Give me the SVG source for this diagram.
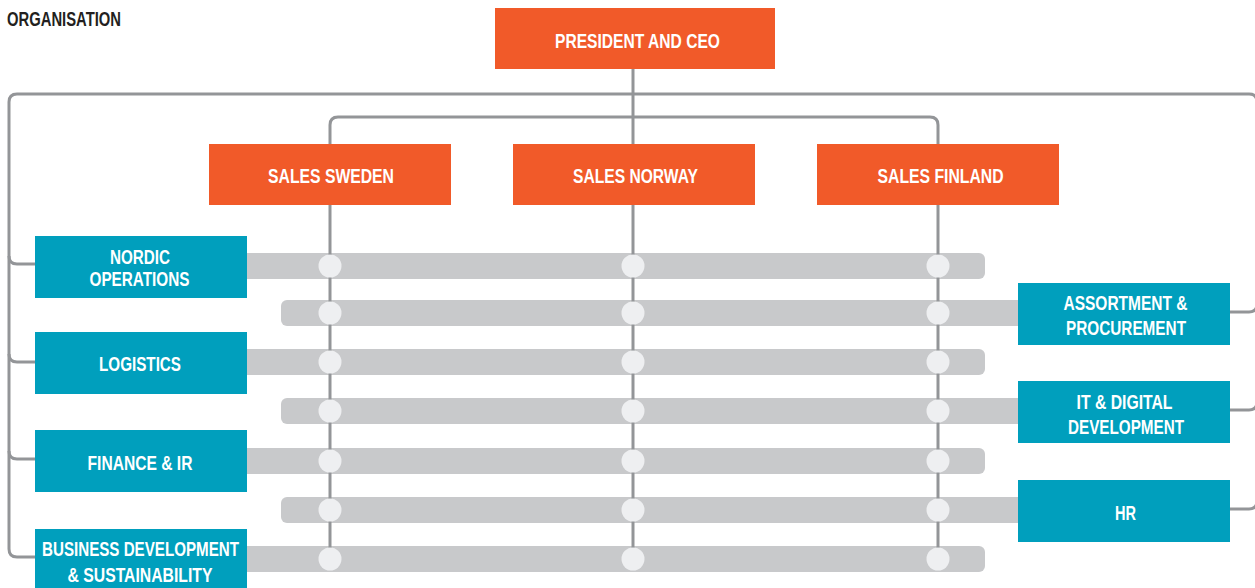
<svg xmlns="http://www.w3.org/2000/svg" width="1255" height="588" viewBox="0 0 1255 588">
<style>
  .ln{fill:none;stroke:#939598;stroke-width:3}
  .bar{fill:#c8c9cb}
  .dot{fill:#eeeff1}
  .or{fill:#f15a29}
  .tl{fill:#009fbd}
  .t{font-family:'Liberation Sans','DejaVu Sans',sans-serif;font-weight:bold;font-size:20.5px;fill:#ffffff;text-anchor:middle}
  .h{font-family:'Liberation Sans','DejaVu Sans',sans-serif;font-weight:bold;font-size:20.5px;fill:#231f20}
</style>
<rect width="1255" height="588" fill="#ffffff"/>
<text class="h" x="7" y="26" textLength="114" lengthAdjust="spacingAndGlyphs">ORGANISATION</text>

<g id="bars">
  <rect class="bar" x="235" y="253" width="750" height="26" rx="6"/>
  <rect class="bar" x="281" y="300" width="750" height="26" rx="6"/>
  <rect class="bar" x="235" y="349" width="750" height="26" rx="6"/>
  <rect class="bar" x="281" y="398" width="750" height="26" rx="6"/>
  <rect class="bar" x="235" y="448" width="750" height="26" rx="6"/>
  <rect class="bar" x="281" y="497" width="750" height="26" rx="6"/>
  <rect class="bar" x="235" y="546" width="750" height="26" rx="6"/>
</g>

<g id="connectors">
  <path class="ln" d="M35,557 L17,557 Q9,557 9,549 L9,102 Q9,94 17,94 L1249,94 Q1257,94 1257,102 L1257,501 Q1257,509 1249,509 L1230,509"/>
  <path class="ln" d="M35,264 L17,264 Q9,264 9,256"/>
  <path class="ln" d="M35,362 L17,362 Q9,362 9,354"/>
  <path class="ln" d="M35,459 L17,459 Q9,459 9,451"/>
  <path class="ln" d="M1230,312 L1249,312 Q1257,312 1257,304"/>
  <path class="ln" d="M1230,410 L1249,410 Q1257,410 1257,402"/>
  <path class="ln" d="M633,69 L633,559"/>
  <path class="ln" d="M330,144 L330,125 Q330,117 338,117 L930,117 Q938,117 938,125 L938,144"/>
  <path class="ln" d="M330,205 L330,559"/>
  <path class="ln" d="M938,205 L938,559"/>
</g>

<g id="dots">
  <circle class="dot" cx="330" cy="266" r="11.5"/><circle class="dot" cx="633" cy="266" r="11.5"/><circle class="dot" cx="938" cy="266" r="11.5"/>
  <circle class="dot" cx="330" cy="313" r="11.5"/><circle class="dot" cx="633" cy="313" r="11.5"/><circle class="dot" cx="938" cy="313" r="11.5"/>
  <circle class="dot" cx="330" cy="362" r="11.5"/><circle class="dot" cx="633" cy="362" r="11.5"/><circle class="dot" cx="938" cy="362" r="11.5"/>
  <circle class="dot" cx="330" cy="411" r="11.5"/><circle class="dot" cx="633" cy="411" r="11.5"/><circle class="dot" cx="938" cy="411" r="11.5"/>
  <circle class="dot" cx="330" cy="461" r="11.5"/><circle class="dot" cx="633" cy="461" r="11.5"/><circle class="dot" cx="938" cy="461" r="11.5"/>
  <circle class="dot" cx="330" cy="510" r="11.5"/><circle class="dot" cx="633" cy="510" r="11.5"/><circle class="dot" cx="938" cy="510" r="11.5"/>
  <circle class="dot" cx="330" cy="559" r="11.5"/><circle class="dot" cx="633" cy="559" r="11.5"/><circle class="dot" cx="938" cy="559" r="11.5"/>
</g>

<g id="ceo">
  <rect class="or" x="495" y="8" width="280" height="61"/>
  <text class="t" x="637.5" y="47.5" textLength="165" lengthAdjust="spacingAndGlyphs">PRESIDENT AND CEO</text>
</g>
<g id="sales-sweden">
  <rect class="or" x="209" y="144" width="242" height="61"/>
  <text class="t" x="331" y="183" textLength="126" lengthAdjust="spacingAndGlyphs">SALES SWEDEN</text>
</g>
<g id="sales-norway">
  <rect class="or" x="513" y="144" width="242" height="61"/>
  <text class="t" x="635.5" y="183" textLength="125" lengthAdjust="spacingAndGlyphs">SALES NORWAY</text>
</g>
<g id="sales-finland">
  <rect class="or" x="817" y="144" width="242" height="61"/>
  <text class="t" x="940.5" y="183" textLength="126" lengthAdjust="spacingAndGlyphs">SALES FINLAND</text>
</g>

<g id="nordic-operations">
  <rect class="tl" x="35" y="236" width="212" height="62"/>
  <text class="t" x="140" y="263.5" textLength="60" lengthAdjust="spacingAndGlyphs">NORDIC</text>
  <text class="t" x="139.5" y="285.5" textLength="100" lengthAdjust="spacingAndGlyphs">OPERATIONS</text>
</g>
<g id="logistics">
  <rect class="tl" x="35" y="332" width="212" height="62"/>
  <text class="t" x="140" y="371" textLength="82" lengthAdjust="spacingAndGlyphs">LOGISTICS</text>
</g>
<g id="finance-ir">
  <rect class="tl" x="35" y="430" width="212" height="62"/>
  <text class="t" x="140" y="469.5" textLength="105" lengthAdjust="spacingAndGlyphs">FINANCE &amp; IR</text>
</g>
<g id="business-development">
  <rect class="tl" x="35" y="529" width="212" height="62"/>
  <text class="t" x="140.5" y="556" textLength="197" lengthAdjust="spacingAndGlyphs">BUSINESS DEVELOPMENT</text>
  <text class="t" x="140" y="582" textLength="145" lengthAdjust="spacingAndGlyphs">&amp; SUSTAINABILITY</text>
</g>

<g id="assortment-procurement">
  <rect class="tl" x="1018" y="283" width="212" height="62"/>
  <text class="t" x="1125.5" y="309.5" textLength="124" lengthAdjust="spacingAndGlyphs">ASSORTMENT &amp;</text>
  <text class="t" x="1126" y="334.5" textLength="120" lengthAdjust="spacingAndGlyphs">PROCUREMENT</text>
</g>
<g id="it-digital-development">
  <rect class="tl" x="1018" y="381" width="212" height="62"/>
  <text class="t" x="1124.5" y="408.5" textLength="96" lengthAdjust="spacingAndGlyphs">IT &amp; DIGITAL</text>
  <text class="t" x="1126" y="433.5" textLength="116" lengthAdjust="spacingAndGlyphs">DEVELOPMENT</text>
</g>
<g id="hr">
  <rect class="tl" x="1018" y="480" width="212" height="62"/>
  <text class="t" x="1125.5" y="520" textLength="21" lengthAdjust="spacingAndGlyphs">HR</text>
</g>
</svg>
